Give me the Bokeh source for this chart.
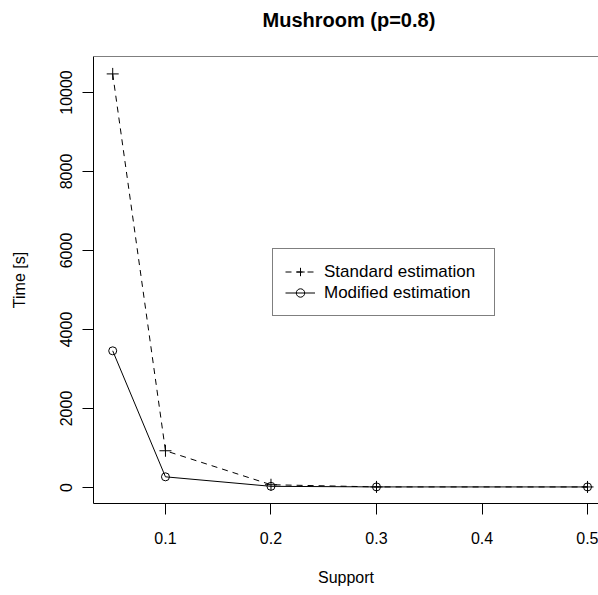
from bokeh.plotting import figure
from bokeh.models import (Range1d, FixedTicker, Span, Legend, LegendItem)
from bokeh.embed import file_html
from bokeh.resources import INLINE

support = [0.05, 0.1, 0.2, 0.3, 0.5]
standard = [10470, 930, 70, 15, 14]
modified = [3460, 270, 30, 15, 14]
x_ticks = [0.1, 0.2, 0.3, 0.4, 0.5]
y_ticks = [0, 2000, 4000, 6000, 8000, 10000]
title_text = "Mushroom (p=0.8)"

FONT = "Liberation Sans"
X0, X1 = 0.0318, 0.5104
Y0, Y1 = -405, 10911

p = figure(width=598, height=595, output_backend="svg", toolbar_location=None,
           x_range=Range1d(X0, X1), y_range=Range1d(Y0, Y1),
           min_border_left=93, min_border_right=0, min_border_top=56,
           min_border_bottom=92, title=title_text)
p.outline_line_color = None
p.grid.visible = False
p.background_fill_color = "white"
p.border_fill_color = "white"

p.title.align = "left"
p.title.vertical_align = "top"
p.title.text_font = FONT
p.title.text_font_size = "20px"
p.title.text_font_style = "bold"
p.title.text_color = "black"
p.title.standoff = 0
p.title.padding = dict(left=0, right=0, top=0, bottom=24)
p.title.offset = 169

for ax in (p.xaxis[0], p.yaxis[0]):
    ax.axis_line_color = "black"
    ax.major_tick_line_color = "black"
    ax.minor_tick_line_color = None
    ax.major_tick_in = 0
    ax.major_tick_out = 11
    ax.major_label_text_font = FONT
    ax.major_label_text_font_size = "16px"
    ax.major_label_text_color = "black"
    ax.axis_label_text_font = FONT
    ax.axis_label_text_font_size = "16px"
    ax.axis_label_text_font_style = "normal"
    ax.axis_label_text_color = "black"

p.xaxis.ticker = FixedTicker(ticks=x_ticks)
p.yaxis.ticker = FixedTicker(ticks=y_ticks)
p.xaxis.axis_label = "Support"
p.yaxis.axis_label = "Time [s]"
p.xaxis.major_label_standoff = 17
p.xaxis.axis_label_standoff = 22
p.yaxis.major_label_orientation = "vertical"
p.yaxis.major_label_standoff = 10
p.yaxis.axis_label_standoff = 30

p.add_layout(Span(location=Y1, dimension="width", line_color="black", line_width=1))

l1 = p.line(support, standard, line_color="black", line_width=1, line_dash="6 5")
s1 = p.scatter(support, standard, marker="cross", size=12, line_color="black", line_width=1)
l2 = p.line(support, modified, line_color="black", line_width=1)
s2 = p.scatter(support, modified, marker="circle", size=8, line_color="black",
               fill_color=None, line_width=1)

legend = Legend(items=[LegendItem(label="Standard estimation", renderers=[l1, s1]),
                       LegendItem(label="Modified estimation", renderers=[l2, s2])],
                location=(179, 187), orientation="vertical")
legend.border_line_color = "black"
legend.border_line_width = 1
legend.background_fill_color = "white"
legend.background_fill_alpha = 1
legend.label_text_font = FONT
legend.label_text_font_size = "17px"
legend.label_text_color = "black"
legend.glyph_width = 30
legend.glyph_height = 21
legend.label_height = 21
legend.label_width = 158
legend.spacing = 0
legend.padding = 12
legend.margin = 0
legend.label_standoff = 9
p.add_layout(legend, "center")

open("out.html", "w").write(file_html(p, INLINE))
